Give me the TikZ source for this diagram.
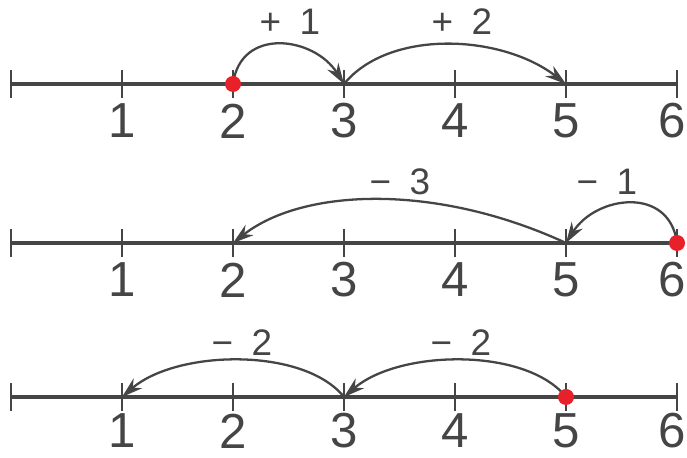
\documentclass[tikz,border=0pt]{standalone}
\usepackage{fontspec}
\setmainfont{Liberation Sans}
\usetikzlibrary{arrows.meta}

\definecolor{ink}{HTML}{454545}
\definecolor{dotred}{HTML}{E8202A}

\tikzset{
  axis/.style={ink, line width=1.8pt},
  tickmark/.style={ink, line width=1.1pt},
  jump/.style={ink, line width=1.3pt, -{Stealth[length=4.2mm,width=2.6mm]}},
  digit/.style={ink, inner sep=0pt, font=\fontsize{28}{28}\selectfont},
  jumplabel/.style={ink, inner sep=0pt, font=\fontsize{21}{21}\selectfont},
  dot/.style={circle, fill=dotred, inner sep=0pt, minimum size=3.2mm}
}

\begin{document}
\begin{tikzpicture}
	\useasboundingbox (-0.22,0) rectangle (13.52,9.16);
	
	% three number lines
	\foreach \r/\y/\d in {a/7.48/0.74,b/4.30/0.74,c/1.22/0.68}{
		\foreach \k in {0,...,6}
			\coordinate (\r\k) at (2.22*\k,\y);
		\draw[axis] (\r0) -- (\r6);
		\foreach \k in {0,...,6}
			\draw[tickmark] ([yshift=-0.28cm]\r\k) -- ([yshift=0.28cm]\r\k);
		\foreach \k in {1,...,5}
			\node[digit] (\r n\k) at ([yshift=-\d cm]\r\k) {\k};
		\node[digit] (\r n6) at ([xshift=-0.1cm,yshift=-\d cm]\r6) {6};
	}
	
	% 2 + 1 + 2
	\draw[jump] (a2) .. controls +(0.15,1.15) and +(-0.6,0.95) .. (a3);
	\draw[jump] (a3) .. controls +(0.9,1.1) and +(-1.3,1.0) .. (a5);
	\node[jumplabel] (pa) at (5.58,8.72) {+\hspace{0.5em}1};
	\node[jumplabel] (pb) at (9.02,8.72) {+\hspace{0.5em}2};
	\node[dot] (sa) at (a2) {};
	
	% 6 - 1 - 3
	\draw[jump] (b6) .. controls +(-0.15,1.15) and +(0.6,0.95) .. (b5);
	\draw[jump] (b5) .. controls +(-2.6,1.2) and +(1.4,1.1) .. (b2);
	\node[jumplabel] (mb) at (7.78,5.52) {−\hspace{0.5em}3};
	\node[jumplabel] (ma) at (11.92,5.52) {−\hspace{0.5em}1};
	\node[dot] (sb) at (b6) {};
	
	% 5 - 2 - 2
	\draw[jump] (c5) .. controls +(-0.8,1.0) and +(1.1,0.95) .. (c3);
	\draw[jump] (c3) .. controls +(-0.8,1.0) and +(1.1,0.95) .. (c1);
	\node[jumplabel] (mc) at (4.62,2.30) {−\hspace{0.5em}2};
	\node[jumplabel] (md) at (9.00,2.30) {−\hspace{0.5em}2};
	\node[dot] (sc) at (c5) {};
\end{tikzpicture}
\end{document}
